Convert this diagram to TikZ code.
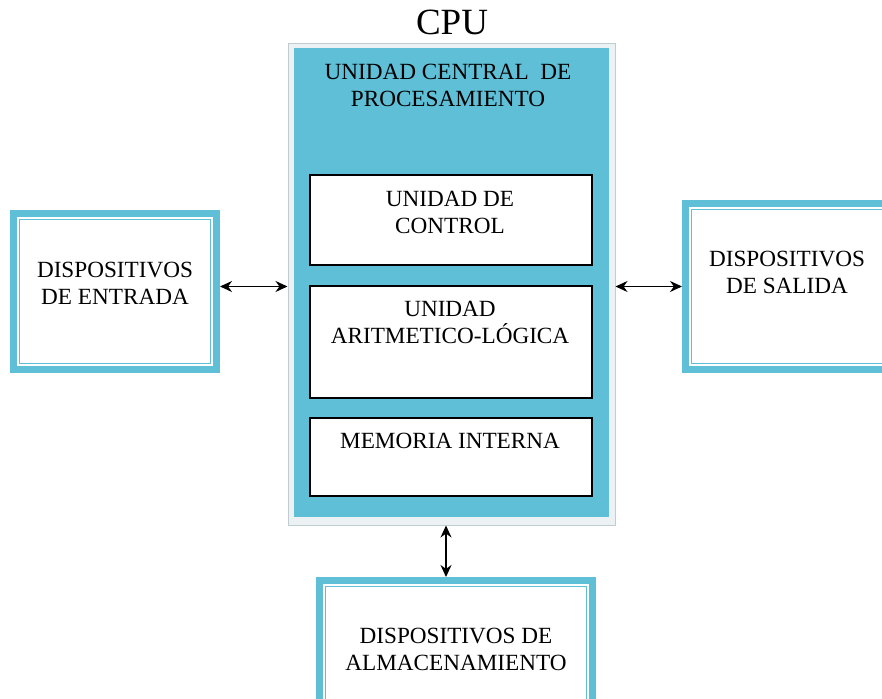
\documentclass[tikz,border=0pt]{standalone}
\usepackage{fontspec}
\setmainfont{Liberation Serif}
\usetikzlibrary{arrows.meta}
\definecolor{cpucyan}{RGB}{94,191,214}
\definecolor{marcogris}{RGB}{236,241,243}
\definecolor{lineagris}{RGB}{192,204,209}

\begin{document}
\begin{tikzpicture}[x=0.5pt,y=-0.5pt,
    every node/.style={font=\fontsize{11.6}{13.5}\selectfont, align=center, inner sep=0pt},
    devbox/.style={rectangle, draw=cpucyan, line width=3.5pt, fill=white,
        path picture={\draw[cpucyan, line width=0.5pt]
            ([shift={(3pt,3pt)}]path picture bounding box.south west) rectangle
            ([shift={(-3pt,-3pt)}]path picture bounding box.north east);}},
    inbox/.style={rectangle, draw=black, line width=0.7pt, fill=white, minimum width=141pt},
    flecha/.style={{Stealth[length=6pt,width=5.5pt]}-{Stealth[length=6pt,width=5.5pt]}, line width=0.75pt}]
    \useasboundingbox (0,0) rectangle (882,699);
    % 中央处理器外框
    \node[rectangle, draw=lineagris, fill=marcogris, line width=0.5pt,
        minimum width=163.5pt, minimum height=240.5pt] (cpu) at (451.5,284.5) {};
    \node[rectangle, fill=cpucyan, minimum width=157.5pt, minimum height=234.5pt] (cpufondo) at (451.5,282.5) {};
    % 内部三个框
    \node[inbox, minimum height=45pt] (control) at (451,220) {};
    \node[inbox, minimum height=56pt] (alu) at (451,342) {};
    \node[inbox, minimum height=39pt] (memoria) at (451,457) {};
    % 外部设备
    \node[devbox, minimum width=101.5pt, minimum height=78pt] (entrada) at (115,291.5) {};
    \node[devbox, minimum width=101.5pt, minimum height=83pt] (salida) at (787,286.5) {};
    \node[devbox, minimum width=136.5pt, minimum height=68pt] (almacen) at (456,648.5) {};
    % 文字
    \node (titulo) at (452,22) {\fontsize{18.5}{20}\selectfont CPU};
    \foreach \n/\x/\y/\t in {ucp/448/85.5/{UNIDAD CENTRAL\ \ DE\\PROCESAMIENTO},
        control-t/450/212.5/{UNIDAD DE\\CONTROL},
        alu-t/450/322/{UNIDAD\\ARITMETICO-LÓGICA},
        memoria-t/450/441/{MEMORIA INTERNA},
        entrada-t/115/283.5/{DISPOSITIVOS\\DE ENTRADA},
        salida-t/787/272/{DISPOSITIVOS\\DE SALIDA},
        almacen-t/456/649/{DISPOSITIVOS DE\\ALMACENAMIENTO}} {
        \node (\n) at (\x,\y) {\t};
    }
    % 箭头
    \draw[flecha] (entrada.east |- salida.west) -- (cpu.west |- salida.west);
    \draw[flecha] (cpu.east |- salida.west) -- (salida.west);
    \draw[flecha] ([xshift=-2.75pt]cpu.south) -- ([xshift=-2.75pt]cpu.south |- almacen.north);
\end{tikzpicture}
\end{document}
